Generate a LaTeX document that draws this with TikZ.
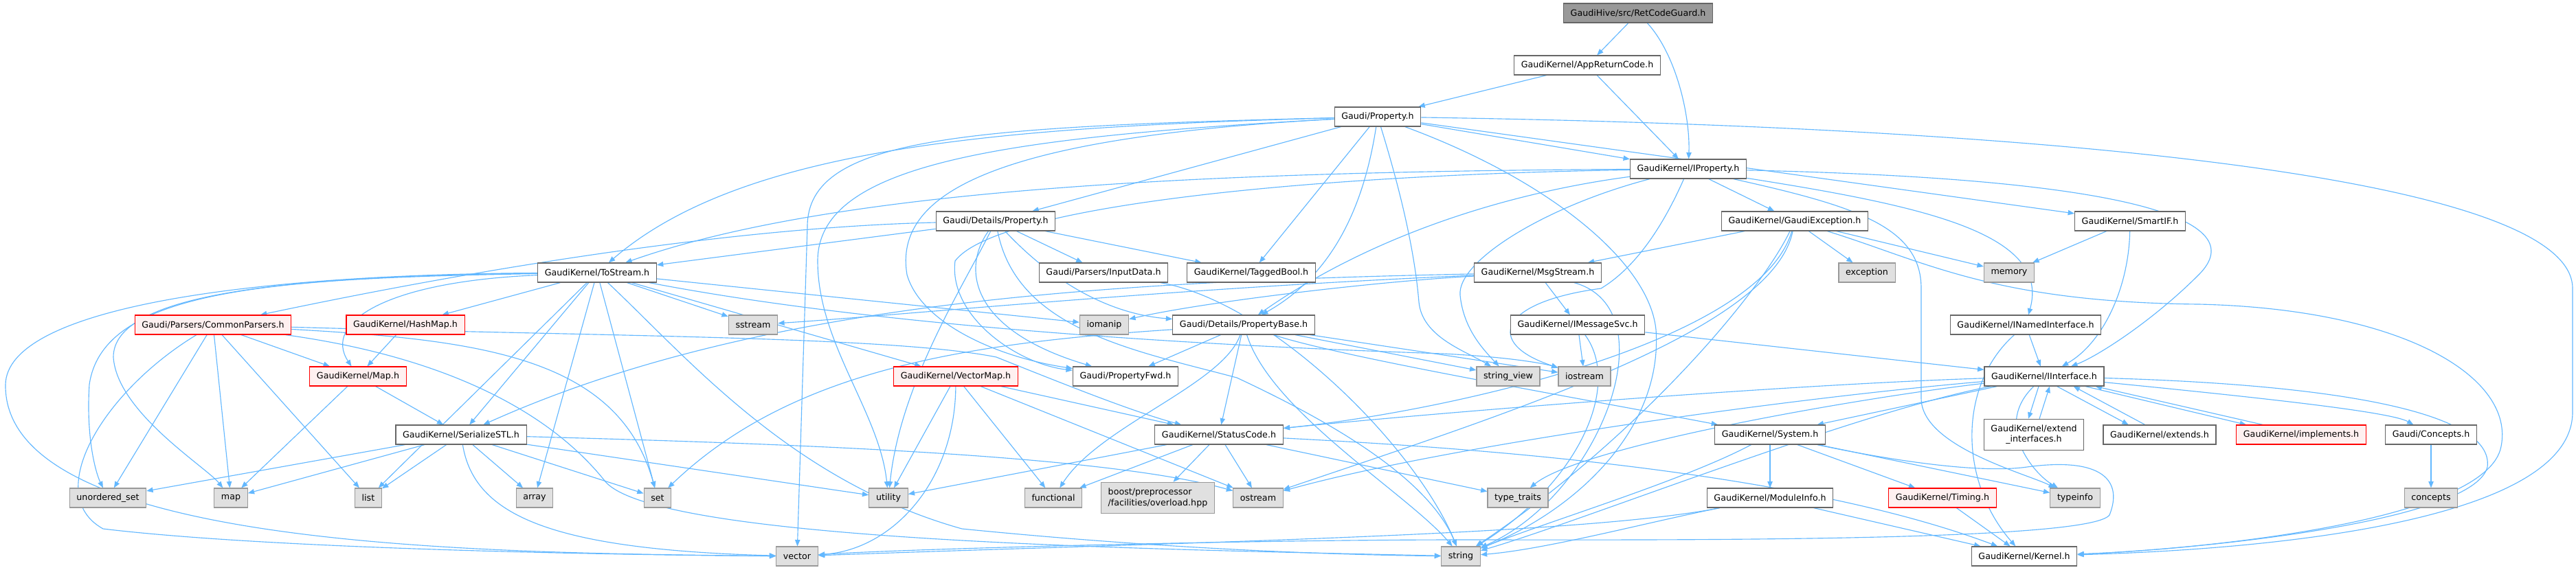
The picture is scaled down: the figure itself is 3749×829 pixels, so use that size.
\documentclass[tikz,border=0pt]{standalone}
\usepackage{fontspec}
\setmainfont{DejaVu Sans}
\usetikzlibrary{arrows.meta,backgrounds}
\definecolor{edgeBlue}{HTML}{63B8FF}
\definecolor{fileStroke}{HTML}{666666}
\definecolor{sysFill}{HTML}{E0E0E0}
\definecolor{sysStroke}{HTML}{999999}
\definecolor{truncFill}{HTML}{FFF0F0}
\definecolor{truncStroke}{HTML}{FF0000}
\definecolor{rootFill}{HTML}{999999}

\begin{document}
\begin{tikzpicture}[
    x=0.75pt, y=-0.75pt,
    fileNode/.style={
        rectangle, draw=fileStroke, fill=white, line width=0.9pt,
        font=\fontsize{9.5}{11.5}\selectfont,
        inner xsep=7.6pt, inner ysep=0pt,
        minimum height=21pt, align=center
    },
    sysNode/.style={fileNode, draw=sysStroke, fill=sysFill},
    truncNode/.style={fileNode, draw=truncStroke, fill=truncFill},
    rootNode/.style={fileNode, fill=rootFill},
    incl/.style={draw=edgeBlue, line width=0.85pt, -{Triangle[length=7pt,width=5.5pt]}}
]

\useasboundingbox (0,0) rectangle (3749,829);

% rank 0 - 2
\node[rootNode] (RetCodeGuard) at (2384,19) {GaudiHive/src/RetCodeGuard.h};
\node[fileNode] (AppReturnCode) at (2310,95) {GaudiKernel/AppReturnCode.h};
\node[fileNode] (Property) at (2005,170) {Gaudi/Property.h};
\node[fileNode] (IProperty) at (2457,246) {GaudiKernel/IProperty.h};

% rank 3 - 4
\node[fileNode] (DetailsProperty) at (1449,322) {Gaudi/Details/Property.h};
\node[fileNode] (GaudiException) at (2612,322) {GaudiKernel/GaudiException.h};
\node[fileNode] (SmartIF) at (3100,322) {GaudiKernel/SmartIF.h};
\node[fileNode] (ToStream) at (869,397) {GaudiKernel/ToStream.h};
\node[fileNode] (InputData) at (1606,397) {Gaudi/Parsers/InputData.h};
\node[fileNode] (TaggedBool) at (1821,397) {GaudiKernel/TaggedBool.h};
\node[fileNode] (MsgStream) at (2238,397) {GaudiKernel/MsgStream.h};
\node[sysNode] (Exception) at (2717,397) {exception};
\node[sysNode] (Memory) at (2924,397) {memory};

% rank 5 - 6
\node[truncNode] (CommonParsers) at (310,473) {Gaudi/Parsers/CommonParsers.h};
\node[truncNode] (HashMap) at (590,473) {GaudiKernel/HashMap.h};
\node[sysNode] (Sstream) at (1096,473) {sstream};
\node[sysNode] (Iomanip) at (1607,473) {iomanip};
\node[fileNode] (PropertyBase) at (1810,473) {Gaudi/Details/PropertyBase.h};
\node[fileNode] (IMessageSvc) at (2296,473) {GaudiKernel/IMessageSvc.h};
\node[fileNode] (INamedInterface) at (2948,473) {GaudiKernel/INamedInterface.h};
\node[truncNode] (Map) at (521,548) {GaudiKernel/Map.h};
\node[truncNode] (VectorMap) at (1391,548) {GaudiKernel/VectorMap.h};
\node[fileNode] (PropertyFwd) at (1638,548) {Gaudi/PropertyFwd.h};
\node[sysNode] (StringView) at (2195,548) {string\_view};
\node[sysNode] (Iostream) at (2306,548) {iostream};
\node[fileNode] (IInterface) at (2975,548) {GaudiKernel/IInterface.h};

% rank 7
\node[fileNode] (SerializeSTL) at (671,633) {GaudiKernel/SerializeSTL.h};
\node[fileNode] (StatusCode) at (1774,633) {GaudiKernel/StatusCode.h};
\node[fileNode] (System) at (2576,633) {GaudiKernel/System.h};
\node[fileNode, minimum height=34pt] (ExtendInterfaces) at (2960,633) {GaudiKernel/extend\\\_interfaces.h};
\node[fileNode] (Extends) at (3143,633) {GaudiKernel/extends.h};
\node[truncNode] (Implements) at (3349,633) {GaudiKernel/implements.h};
\node[fileNode] (Concepts) at (3538,633) {Gaudi/Concepts.h};

% rank 8 - 9
\node[sysNode] (UnorderedSet) at (157,725) {unordered\_set};
\node[sysNode] (StdMap) at (336,725) {map};
\node[sysNode] (List) at (536,725) {list};
\node[sysNode] (Array) at (778,725) {array};
\node[sysNode] (Set) at (957,725) {set};
\node[sysNode] (Utility) at (1293,725) {utility};
\node[sysNode] (Functional) at (1533,725) {functional};
\node[sysNode, align=left, minimum height=34pt] (Boost) at (1685,725) {boost/preprocessor\\/facilities/overload.hpp};
\node[sysNode] (Ostream) at (1831,725) {ostream};
\node[sysNode] (TypeTraits) at (2209,725) {type\_traits};
\node[fileNode] (ModuleInfo) at (2576,725) {GaudiKernel/ModuleInfo.h};
\node[truncNode] (Timing) at (2827,725) {GaudiKernel/Timing.h};
\node[sysNode] (Typeinfo) at (3020,725) {typeinfo};
\node[sysNode] (ConceptsStd) at (3538,725) {concepts};
\node[sysNode] (Vector) at (1160,810) {vector};
\node[sysNode] (String) at (2126,810) {string};
\node[fileNode] (Kernel) at (2946,810) {GaudiKernel/Kernel.h};

\begin{scope}[on background layer]
\fill[white] (0,0) rectangle (3749,829);

% top of the graph
\draw[incl] (RetCodeGuard) -- (AppReturnCode);
\draw[incl] (RetCodeGuard) .. controls (2440,80) and (2460,170) .. (IProperty);
\draw[incl] (AppReturnCode) -- (Property);
\draw[incl] (AppReturnCode) -- (IProperty);

% Gaudi/Property.h
\draw[incl] (Property) -- (DetailsProperty);
\draw[incl] (Property) -- (TaggedBool);
\draw[incl] (Property) -- (IProperty);
\draw[incl] (Property) -- (SmartIF);
\draw[incl] (Property) .. controls (3000,185) and (3744,260) .. (3744,420)
  -- (3744,600) .. controls (3744,760) and (3300,800) .. (Kernel);
\draw[incl] (Property) .. controls (1450,185) and (1080,215) .. (ToStream);
\draw[incl] (Property) .. controls (1400,185) and (1175,200) .. (1175,330) -- (Vector);
\draw[incl] (Property) .. controls (1450,200) and (1190,240) .. (1190,380)
  .. controls (1190,500) and (1280,600) .. (Utility);
\draw[incl] (Property) .. controls (1450,200) and (1300,280) .. (1320,400)
  .. controls (1340,470) and (1450,520) .. (PropertyFwd);
\draw[incl] (Property) .. controls (1985,300) and (1940,400) .. (PropertyBase);
\draw[incl] (Property) .. controls (2045,300) and (2060,380) .. (2065,440)
  .. controls (2070,490) and (2130,510) .. (StringView);
\draw[incl] (Property) .. controls (2250,260) and (2400,380) .. (2410,480)
  .. controls (2420,620) and (2300,740) .. (String);

% GaudiKernel/IProperty.h
\draw[incl] (IProperty) -- (GaudiException);
\draw[incl] (IProperty) .. controls (1700,250) and (1200,280) .. (ToStream);
\draw[incl] (IProperty) .. controls (1900,255) and (1450,300) .. (1390,380)
  .. controls (1380,460) and (1480,530) .. (PropertyFwd);
\draw[incl] (IProperty) .. controls (2200,280) and (2000,340) .. (PropertyBase);
\draw[incl] (IProperty) .. controls (2250,300) and (2120,380) .. (2125,430)
  .. controls (2130,480) and (2160,510) .. (StringView);
\draw[incl] (IProperty) .. controls (2420,330) and (2380,390) .. (2330,420)
  .. controls (2180,440) and (2160,500) .. (Iostream);
\draw[incl] (IProperty) .. controls (2800,300) and (2985,340) .. (INamedInterface);
\draw[incl] (IProperty) .. controls (3100,260) and (3280,320) .. (3200,400)
  .. controls (3130,470) and (3050,520) .. (IInterface);
\draw[incl] (IProperty) .. controls (2700,300) and (2796,330) .. (2796,420)
  -- (2796,580) .. controls (2796,650) and (2950,690) .. (Typeinfo);

% Gaudi/Details/Property.h
\draw[incl] (DetailsProperty) -- (InputData);
\draw[incl] (DetailsProperty) -- (TaggedBool);
\draw[incl] (DetailsProperty) -- (ToStream);
\draw[incl] (DetailsProperty) .. controls (1100,330) and (750,380) .. (CommonParsers);
\draw[incl] (DetailsProperty) .. controls (1400,390) and (1410,480) .. (PropertyFwd);
\draw[incl] (DetailsProperty) .. controls (1560,440) and (1650,460) .. (PropertyBase);
\draw[incl] (DetailsProperty) .. controls (1400,420) and (1310,560) .. (Utility);
\draw[incl] (DetailsProperty) .. controls (1480,480) and (1650,510) .. (1800,550)
  .. controls (1950,620) and (2080,700) .. (String);

% GaudiKernel/GaudiException.h
\draw[incl] (GaudiException) -- (MsgStream);
\draw[incl] (GaudiException) -- (Exception);
\draw[incl] (GaudiException) -- (Memory);
\draw[incl] (GaudiException) .. controls (2800,380) and (2900,440) .. (3200,443)
  .. controls (3500,450) and (3660,550) .. (3640,650)
  .. controls (3620,760) and (3200,800) .. (Kernel);
\draw[incl] (GaudiException) .. controls (2560,430) and (2380,640) .. (String);
\draw[incl] (GaudiException) .. controls (2560,500) and (2100,600) .. (StatusCode);
\draw[incl] (GaudiException) .. controls (2580,480) and (2200,600) .. (Ostream);

% GaudiKernel/MsgStream.h and IMessageSvc.h
\draw[incl] (MsgStream) -- (IMessageSvc);
\draw[incl] (MsgStream) .. controls (1600,410) and (1100,440) .. (SerializeSTL);
\draw[incl] (MsgStream) .. controls (1700,420) and (1300,460) .. (Sstream);
\draw[incl] (MsgStream) .. controls (2000,410) and (1750,440) .. (Iomanip);
\draw[incl] (MsgStream) .. controls (2430,450) and (2330,720) .. (String);
\draw[incl] (IMessageSvc) -- (Iostream);
\draw[incl] (IMessageSvc) -- (IInterface);
\draw[incl] (IMessageSvc) .. controls (2360,560) and (2300,700) .. (String);

% SmartIF, INamedInterface
\draw[incl] (SmartIF) -- (Memory);
\draw[incl] (SmartIF) .. controls (3098,420) and (3060,500) .. (IInterface);
\draw[incl] (INamedInterface) -- (IInterface);
\draw[incl] (INamedInterface) .. controls (2850,560) and (2850,700) .. (Kernel);

% GaudiKernel/IInterface.h
\draw[incl] (IInterface) -- (System);
\draw[incl] ([xshift=-6pt]IInterface.south) -- ([xshift=-6pt]ExtendInterfaces.north);
\draw[incl] ([xshift=6pt]ExtendInterfaces.north) -- ([xshift=6pt]IInterface.south);
\draw[incl] ([xshift=14pt]IInterface.south) -- ([xshift=-34pt]Extends.north);
\draw[incl] ([xshift=-16pt]Extends.north) -- ([xshift=32pt]IInterface.south);
\draw[incl] ([xshift=45pt]IInterface.south) -- ([xshift=-60pt]Implements.north);
\draw[incl] ([xshift=-42pt]Implements.north) -- ([xshift=56pt]IInterface.south);
\draw[incl] (IInterface) .. controls (3300,580) and (3480,600) .. (Concepts);
\draw[incl] (IInterface) .. controls (3400,560) and (3630,600) .. (3620,680)
  .. controls (3600,760) and (3200,800) .. (Kernel);
\draw[incl] (IInterface) .. controls (2600,560) and (2100,600) .. (StatusCode);
\draw[incl] (IInterface) .. controls (2600,580) and (2100,650) .. (Ostream);
\draw[incl] (IInterface) .. controls (2700,580) and (2300,650) .. (TypeTraits);
\draw[incl] (IInterface) .. controls (2900,620) and (2960,690) .. (Typeinfo);
\draw[incl] (IInterface) .. controls (2700,600) and (2300,760) .. (String);
\draw[incl] (Concepts) -- (ConceptsStd);

% Gaudi/Details/PropertyBase.h
\draw[incl] (PropertyBase) -- (PropertyFwd);
\draw[incl] (PropertyBase) -- (StatusCode);
\draw[incl] (PropertyBase) -- (StringView);
\draw[incl] (PropertyBase) -- (Iostream);
\draw[incl] (PropertyBase) .. controls (1780,560) and (1600,620) .. (Functional);
\draw[incl] (PropertyBase) .. controls (1850,600) and (2050,720) .. (String);
\draw[incl] (PropertyBase) .. controls (1950,520) and (2300,580) .. (System);
\draw[incl] (PropertyBase) .. controls (1400,500) and (1150,540) .. (Set);

% GaudiKernel/StatusCode.h and VectorMap.h
\draw[incl] (StatusCode) -- (Utility);
\draw[incl] (StatusCode) -- (Functional);
\draw[incl] (StatusCode) -- (Boost);
\draw[incl] (StatusCode) -- (Ostream);
\draw[incl] (StatusCode) -- (TypeTraits);
\draw[incl] (StatusCode) .. controls (2100,650) and (2600,680) .. (Kernel);
\draw[incl] (VectorMap) -- (Utility);
\draw[incl] (VectorMap) -- (Functional);
\draw[incl] (VectorMap) -- (Ostream);
\draw[incl] (VectorMap) -- (StatusCode);
\draw[incl] (VectorMap) .. controls (1390,700) and (1300,800) .. (Vector);

% GaudiKernel/ToStream.h
\draw[incl] (ToStream) -- (HashMap);
\draw[incl] (ToStream) -- (Sstream);
\draw[incl] (ToStream) -- (List);
\draw[incl] (ToStream) -- (SerializeSTL);
\draw[incl] (ToStream) -- (Array);
\draw[incl] (ToStream) -- (Set);
\draw[incl] (ToStream) -- (Iomanip);
\draw[incl] (ToStream) -- (VectorMap);
\draw[incl] (ToStream) .. controls (560,410) and (470,470) .. (Map);
\draw[incl] (ToStream) .. controls (400,405) and (150,420) .. (130,560)
  .. controls (125,640) and (140,690) .. (UnorderedSet);
\draw[incl] (ToStream) .. controls (400,402) and (165,430) .. (165,520)
  .. controls (170,600) and (300,680) .. (StdMap);
\draw[incl] (ToStream) .. controls (350,400) and (10,450) .. (8,560)
  .. controls (5,800) and (700,805) .. (Vector);
\draw[incl] (ToStream) .. controls (1000,520) and (1150,700) .. (1400,770)
  .. controls (1700,800) and (1950,808) .. (String);
\draw[incl] (ToStream) .. controls (1300,480) and (1800,505) .. (2100,515)
  .. controls (2200,520) and (2250,530) .. (Iostream);

% Gaudi/Parsers/CommonParsers.h, HashMap.h, Map.h
\draw[incl] (CommonParsers) -- (Map);
\draw[incl] (CommonParsers) -- (StdMap);
\draw[incl] (CommonParsers) -- (List);
\draw[incl] (CommonParsers) -- (UnorderedSet);
\draw[incl] (CommonParsers) .. controls (700,495) and (900,520) .. (Set);
\draw[incl] (CommonParsers) .. controls (150,570) and (60,720) .. (150,770)
  .. controls (400,800) and (900,808) .. (Vector);
\draw[incl] (CommonParsers) .. controls (650,520) and (800,600) .. (880,700)
  .. controls (950,790) and (1700,800) .. (String);
\draw[incl] (CommonParsers) .. controls (900,490) and (1300,490) .. (1450,520)
  .. controls (1550,560) and (1650,600) .. (StatusCode);
\draw[incl] (HashMap) -- (Map);
\draw[incl] (Map) -- (SerializeSTL);
\draw[incl] (Map) -- (StdMap);

% GaudiKernel/SerializeSTL.h
\draw[incl] (SerializeSTL) -- (UnorderedSet);
\draw[incl] (SerializeSTL) -- (StdMap);
\draw[incl] (SerializeSTL) -- (List);
\draw[incl] (SerializeSTL) -- (Array);
\draw[incl] (SerializeSTL) -- (Set);
\draw[incl] (SerializeSTL) -- (Utility);
\draw[incl] (SerializeSTL) .. controls (690,750) and (800,800) .. (Vector);
\draw[incl] (SerializeSTL) .. controls (1100,645) and (1600,660) .. (Ostream);

% GaudiKernel/System.h and below
\draw[incl] (System) -- (ModuleInfo);
\draw[incl] (System) -- (Timing);
\draw[incl] (System) -- (Typeinfo);
\draw[incl] (System) .. controls (2450,700) and (2250,760) .. (String);
\draw[incl] (System) .. controls (2750,670) and (2880,690) .. (2950,680)
  .. controls (3060,665) and (3090,700) .. (3070,750)
  .. controls (3040,790) and (2400,786) .. (2126,786)
  .. controls (1800,786) and (1300,800) .. (Vector);
\draw[incl] (ModuleInfo) -- (Kernel);
\draw[incl] (ModuleInfo) .. controls (2400,760) and (2250,800) .. (String);
\draw[incl] (ModuleInfo) .. controls (2300,780) and (1700,790) .. (Vector);
\draw[incl] (Timing) -- (Kernel);
\draw[incl] (InputData) .. controls (1850,440) and (2060,650) .. (String);
\end{scope}

\end{tikzpicture}
\end{document}
